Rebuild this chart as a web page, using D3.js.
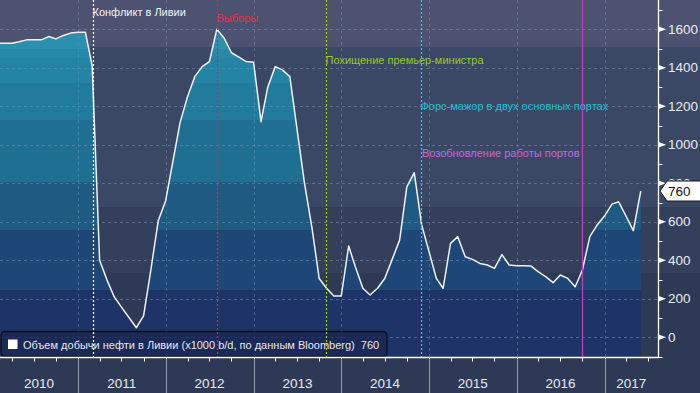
<!DOCTYPE html>
<html><head><meta charset="utf-8">
<script src="https://cdn.jsdelivr.net/npm/d3@7/dist/d3.min.js"></script>
<style>html,body{margin:0;padding:0;background:#2e3a55;} svg{display:block;font-family:"Liberation Sans",Arial,sans-serif;}</style>
</head><body><svg id="c" width="700" height="393"></svg>
<script>
// ---------- data ----------
const firstMonth = "2010-02-01";
const production = [
  1527,1527,1527,1535,1545,1545,1545,1562,1550,1568,1580,          // 2010 Feb-Dec
  1584,1584,1410,400,300,210,157,103,50,112,355,605,710,              // 2011
  920,1115,1250,1354,1406,1432,1600,1553,1478,1455,1432,1429,         // 2012
  1120,1299,1406,1389,1354,1080,800,570,306,255,215,215,              // 2013
  474,365,255,220,255,306,405,505,782,855,588,447,                    // 2014
  306,255,488,523,419,405,384,376,358,430,376,372,                    // 2015
  372,370,340,315,284,324,306,263,350,523,583,630,                    // 2016
  692,704,629,554,760                                                 // 2017
];
const yTicks = [0,200,400,600,800,1000,1200,1400,1600];
const yMinorTicks = [-100,100,300,500,700,900,1100,1300,1500,1700];
const years = ["2010","2011","2012","2013","2014","2015","2016","2017"];
const annotationDates  = ["2011-03-04","2012-08-02","2013-10-29","2014-12-01","2016-10-01"];
const annotationLabels = ["Конфликт в Ливии","Выборы","Похищение премьер-министра",
                          "Форс-мажор в двух основных портах","Возобновление работы портов"];
const seriesName = "Объем добычи нефти в Ливии (x1000 b/d, по данным Bloomberg)";
const lastValue = 760;

// ---------- layout ----------
const W = 700, H = 393, PR = 658, PB = 357;
const svg = d3.select("#c");
const parse = d3.timeParse("%Y-%m-%d");
const data = production.map((v,i)=>({date: d3.timeMonth.offset(parse(firstMonth), i), v}));

const xRef = d3.scaleTime().domain([new Date(2011,0,1), new Date(2017,0,1)]).range([78, 604.5]);
const x = d3.scaleTime().domain([xRef.invert(0), xRef.invert(PR)]).range([0, PR]);
const y = d3.scaleLinear().domain([-102, 1752]).range([PB, 0]);

const defs = svg.append("defs");
defs.append("clipPath").attr("id","plot").append("rect").attr("x",0).attr("y",0).attr("width",PR).attr("height",PB);

// background bands
const bgBreaks = [1505, 676, 334];
const bgColors = ["#4d5270","#3b4865","#34405b","#2e3a55"];
const bgEdges = [0, ...bgBreaks.map(v=>y(v)), H];
bgColors.forEach((c,i)=>{
  svg.append("rect").attr("x",0).attr("y",bgEdges[i]).attr("width",W)
     .attr("height",bgEdges[i+1]-bgEdges[i]).attr("fill",c);
});

// banded fill gradient
const fillBreaks = [1500, 1450, 1320, 1130, 805, 557, 246];
const fillColors = ["#2b90b0","#2789aa","#2384a5","#207b9c","#1f6f92","#1e5a82","#1e4777","#1e3468"];
const grad = defs.append("linearGradient").attr("id","bands")
  .attr("gradientUnits","userSpaceOnUse").attr("x1",0).attr("y1",0).attr("x2",0).attr("y2",PB);
const fEdges = [0, ...fillBreaks.map(v=>y(v)/PB), 1];
fillColors.forEach((c,i)=>{
  grad.append("stop").attr("offset",fEdges[i]).attr("stop-color",c);
  grad.append("stop").attr("offset",fEdges[i+1]).attr("stop-color",c);
});

const g = svg.append("g").attr("clip-path","url(#plot)");
g.append("path").datum(data)
  .attr("d", d3.area().x(d=>x(d.date)).y0(PB).y1(d=>y(d.v)))
  .attr("fill","url(#bands)");

// gridlines
g.selectAll(".hg").data(yTicks).enter().append("line")
  .attr("x1",0).attr("x2",PR).attr("y1",d=>Math.round(y(d))+0.5).attr("y2",d=>Math.round(y(d))+0.5)
  .attr("stroke","#7890b0").attr("stroke-opacity",0.55).attr("stroke-dasharray","3,3");
const yearDates = years.slice(1).map(s=>new Date(+s,0,1));
g.selectAll(".vg").data(yearDates).enter().append("line")
  .attr("y1",0).attr("y2",PB).attr("x1",d=>Math.round(x(d))+0.5).attr("x2",d=>Math.round(x(d))+0.5)
  .attr("stroke","#6d88a8").attr("stroke-opacity",0.55).attr("stroke-dasharray","3,3");

// legend box
const leg = svg.append("g");
leg.append("rect").attr("x",1).attr("y",331.5).attr("width",386).attr("height",25).attr("rx",4)
  .attr("fill","#1a2550").attr("fill-opacity",0.75).attr("stroke","#0c0f1c").attr("stroke-width",1.3);
leg.append("rect").attr("x",8).attr("y",339.5).attr("width",9.5).attr("height",9.5).attr("fill","#ffffff");
leg.append("text").attr("x",23).attr("y",349).attr("fill","#e6e8ee").attr("font-size",11)
  .text(seriesName + "\u00a0\u00a0" + lastValue);

// annotations
const annColors = ["#ffffff","#e8203a","#a2d000","#28d0e0","#c040c0"];
const annDash = ["2,2","2,2","2,2","2,2",null];
const annTextColors = ["#f2f2f2","#f0284a","#94c92a","#22bfd0","#c468d8"];
const annTextY = [16, 22, 64, 110, 157];
const annAnchor = ["start","start","start","start","end"];
annotationDates.forEach((ds,i)=>{
  const xx = Math.round(x(parse(ds)))+0.5;
  svg.append("line").attr("x1",xx).attr("x2",xx).attr("y1",0).attr("y2",PB)
    .attr("stroke",annColors[i]).attr("stroke-width",1.2).attr("stroke-dasharray",annDash[i]);
  svg.append("text").attr("x", annAnchor[i]==="end" ? xx-3 : xx-1).attr("y",annTextY[i])
    .attr("text-anchor",annAnchor[i]).attr("fill",annTextColors[i]).attr("font-size",11)
    .text(annotationLabels[i]);
});

// series line
g.append("path").datum(data)
  .attr("d", d3.line().x(d=>x(d.date)).y(d=>y(d.v)))
  .attr("fill","none").attr("stroke","#eef2f8").attr("stroke-width",1.5).attr("stroke-linejoin","round");

// x axis
svg.append("line").attr("x1",0).attr("x2",PR+0.5).attr("y1",PB+0.5).attr("y2",PB+0.5).attr("stroke","#ffffff").attr("stroke-width",1.3);
const quarters = d3.timeMonth.every(3).range(x.domain()[0], x.domain()[1]);
svg.selectAll(".qt").data(quarters).enter().append("line")
  .attr("x1",d=>Math.round(x(d))+0.5).attr("x2",d=>Math.round(x(d))+0.5)
  .attr("y1",PB).attr("y2",PB+4.5).attr("stroke","#ffffff");
svg.selectAll(".ys").data(yearDates).enter().append("line")
  .attr("x1",d=>Math.round(x(d))+0.5).attr("x2",d=>Math.round(x(d))+0.5)
  .attr("y1",PB+2).attr("y2",H).attr("stroke","#8a90a0").attr("stroke-width",1.2);
const yearBounds = [0, ...yearDates.map(d=>x(d)), PR];
svg.selectAll(".yl").data(years).enter().append("text")
  .attr("x",(d,i)=>(yearBounds[i]+yearBounds[i+1])/2).attr("y",388)
  .attr("text-anchor","middle").attr("fill","#e8eaf0").attr("font-size",13.5).text(d=>d);

// y axis
svg.append("line").attr("x1",PR+0.5).attr("x2",PR+0.5).attr("y1",0).attr("y2",PB+1).attr("stroke","#ffffff").attr("stroke-width",1.3);
svg.selectAll(".mt").data(yMinorTicks).enter().append("line")
  .attr("x1",PR).attr("x2",PR+4.5).attr("y1",d=>Math.round(y(d))+0.5).attr("y2",d=>Math.round(y(d))+0.5)
  .attr("stroke","#ffffff");
svg.selectAll(".tri").data(yTicks).enter().append("path")
  .attr("d",d=>{const yy=y(d); return `M${PR},${yy-3}L${PR+8},${yy}L${PR},${yy+3}Z`;})
  .attr("fill","#ffffff");
svg.selectAll(".yt").data(yTicks).enter().append("text")
  .attr("x",668).attr("y",d=>y(d)+4.5).attr("fill","#e8eaf0").attr("font-size",13.5).text(d=>d);

// last value tag
const ty = y(lastValue);
svg.append("path").attr("d",`M660,${ty}L667,${ty-10}L701,${ty-10}L701,${ty+10}L667,${ty+10}Z`)
  .attr("fill","#ffffff").attr("stroke","#1a1a1a").attr("stroke-width",1);
svg.append("text").attr("x",668).attr("y",ty+5).attr("fill","#111").attr("font-size",13.5).text(lastValue);
</script></body></html>
